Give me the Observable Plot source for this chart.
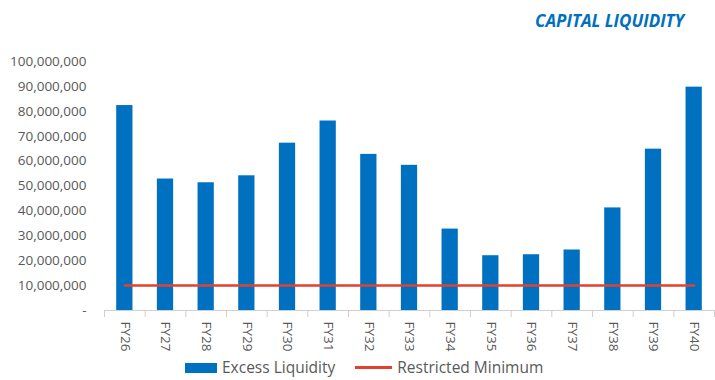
<!DOCTYPE html>
<html><head><meta charset="utf-8">
<script src="https://cdn.jsdelivr.net/npm/d3@7"></script>
<script src="https://cdn.jsdelivr.net/npm/@observablehq/plot@0.6"></script>
<style>
body{margin:0;background:#fff;}
#wrap{position:relative;width:715px;height:380px;font-family:"Open Sans",sans-serif;overflow:hidden;}
#title{position:absolute;left:535px;top:9px;font-weight:bold;font-style:italic;color:#0070c0;font-size:17px;white-space:nowrap;}
#chart{position:absolute;left:0;top:40px;}
#legend{position:absolute;top:358px;left:185px;display:flex;align-items:center;color:#595959;font-size:15.5px;line-height:19px;white-space:nowrap;}
.sw-bar{display:inline-block;width:32px;height:10px;background:#0070c0;margin-right:5px;}
.sw-line{display:inline-block;width:37px;height:3px;background:#e3412d;margin-left:20px;margin-right:5px;}
</style></head>
<body>
<div id="wrap">
  <div id="title">CAPITAL LIQUIDITY</div>
  <div id="chart"></div>
  <div id="legend"><span class="sw-bar"></span><span>Excess Liquidity</span><span class="sw-line"></span><span>Restricted Minimum</span></div>
</div>
<script>
const years = ["FY26","FY27","FY28","FY29","FY30","FY31","FY32","FY33","FY34","FY35","FY36","FY37","FY38","FY39","FY40"];
const excessLiquidity = [82300000, 52800000, 51300000, 54100000, 67200000, 76100000, 62700000, 58300000, 32700000, 22000000, 22400000, 24300000, 41200000, 64800000, 89700000];
const restrictedMinimum = [10000000, 10000000, 10000000, 10000000, 10000000, 10000000, 10000000, 10000000, 10000000, 10000000, 10000000, 10000000, 10000000, 10000000, 10000000];
const yTicks = [0, 10000000, 20000000, 30000000, 40000000, 50000000, 60000000, 70000000, 80000000, 90000000, 100000000];

const data = years.map((year, i) => ({year, excess: excessLiquidity[i], restricted: restrictedMinimum[i]}));

const W = 715, H = 320, ML = 104, MR = 1;
const step = (W - ML - MR) / years.length;
const fmt = d3.format(",");

const chart = Plot.plot({
  width: W, height: H,
  marginLeft: ML, marginRight: MR, marginTop: 21, marginBottom: 50,
  style: {fontFamily: "Open Sans", fontSize: "13.5px", color: "#595959", background: "white"},
  x: {domain: years, paddingInner: 0.6, paddingOuter: 0.3, round: false, label: null},
  y: {domain: [0, 100000000], label: null},
  marks: [
    Plot.axisY({ticks: yTicks, tickSize: 0, tickPadding: 18, tickFormat: d => d === 0 ? "-" : fmt(d), label: null, fill: "#595959"}),
    Plot.axisX({tickSize: 0, tickRotate: 90, tickPadding: 11, label: null, fill: "#595959"}),
    Plot.barY(data, {x: "year", y: "excess", fill: "#0070c0"}),
    Plot.ruleY([0], {stroke: "#d0d0d0"}),
    Plot.ruleX(years, {x: d => d, y1: 0, y2: 0, insetBottom: -7, dx: -step / 2, stroke: "#d0d0d0"}),
    Plot.ruleX([years[years.length - 1]], {x: d => d, y1: 0, y2: 0, insetBottom: -7, dx: step / 2, stroke: "#d0d0d0"}),
    Plot.lineY(data, {x: "year", y: "restricted", stroke: "#e3412d", strokeWidth: 2.5})
  ]
});
document.getElementById("chart").appendChild(chart);
</script>
</body></html>
